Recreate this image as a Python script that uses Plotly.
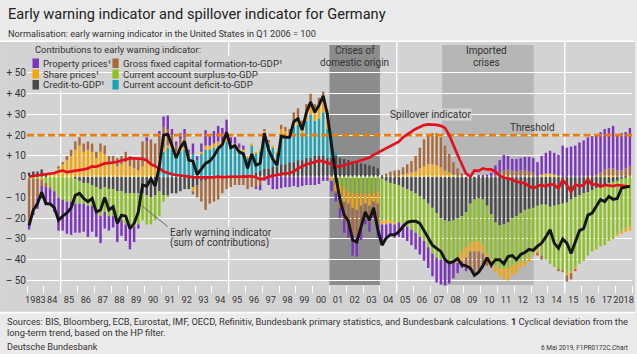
import plotly.graph_objects as go

# ---------------- data: quarterly, 1983 Q1 - 2018 Q4 ----------------
first_year = 1983
last_year = 2018

credit_to_gdp = [
    2, 2.5, 2.5, 3.5, 0.5, 0, 0, 0,
    0, 0, 0, -1, -2, -3, -3, -4,
    -5, -6, -5, -6, -6, -7, -7, -8,
    -8, -8, -8, -8, -9, -10, -9, -7,
    -9, -9, -8, -8, -7, -6, -6, -5,
    -4, -2, -2, -1, -1, 0, 0, 0,
    0, 0, 0, 0, 0, 1, 2, 3,
    4, 4, 5, 5, 6, 6, 7, 7,
    8, 8, 9, 9, 10, 10, 10, 9,
    9, 10, 9, 8.5, 8, 7.5, 7, 6.5,
    6, 5.5, 5, 4, -1, -2, -3, -3.5,
    -4, -5, -6, -7, -8, -9.5, -11, -13,
    -15, -17.5, -20, -21, -21.5, -21, -20, -19,
    -17, -13, -11, -10.5, -11, -14, -18, -22,
    -23.5, -23, -22, -20, -19, -17.5, -16, -15.5,
    -15, -14, -13.5, -13.5, -14.5, -14, -13.5, -13,
    -12.5, -11, -10, -9, -8, -7.5, -6.5, -5.5,
    -4.5, -4, -3, -2.5, -2, -1, -0.5, 0,
]

ca_deficit_to_gdp = [
    0, 0, 0, 0, 0, 0, 0, 0,
    0, 0, 0, 0, 0, 0, 0, 0,
    0, 0, 0, 0, 0, 0, 0, 0,
    0, 0, 0, 0, 0, 0, 0, 6,
    12, 14, 13, 11, 12, 13, 10, 11,
    8, 11, 13, 13, 14, 15, 15, 17,
    14, 14, 13, 12, 9, 14, 9, 9,
    16, 12, 9, 6, 14, 13, 12, 17,
    17, 13, 18, 21, 17, 18, 21, 14,
    13, 2, 0, 0, 0, 0, 0, 0,
    0, 0, 0, 0, 0, 0, 0, 0,
    0, 0, 0, 0, 0, 0, 0, 0,
    0, 0, 0, 0, 0, 0, 0, 0,
    0, 0, 0, 0, 0, 0, 0, 0,
    0, 0, 0, 0, 0, 0, 0, 0,
    0, 0, 0, 0, 0, 0, 0, 0,
    0, 0, 0, 0, 0, 0, 0, 0,
    0, 0, 0, 0, 0, 0, 0, 0,
]

ca_surplus_to_gdp = [
    -1, -1, -1, -1, -3, -5, -7, -10,
    -11, -12, -12, -12, -11, -10, -11, -10,
    -12, -13, -12, -13, -13, -14, -14, -15,
    -17, -16, -15, -13, -14, -13, -12, -12,
    -3, -1, 0, 0, 0, 0, 0, 0,
    0, 0, 0, 0, 0, 0, 0, 0,
    0, 0, 0, 0, 0, 0, 0, 0,
    0, 0, 0, 0, 0, 0, 0, 0,
    0, 0, 0, 0, 0, 0, 0, 0,
    0, -3, -4, -6, -7, -8, -8, -8,
    -8, -8, -8, -7, -20, -19, -18, -18.5,
    -18, -18, -18, -18.5, -19, -19.5, -20, -21,
    -22, -21.5, -20, -20, -19.5, -19, -18.5, -17,
    -17, -19, -20, -20.5, -22, -23, -22, -21,
    -20.5, -21.5, -22, -22.5, -23, -23.5, -24.5, -23.5,
    -22, -21, -24.5, -26.5, -27.5, -29.5, -31, -32,
    -34, -34.5, -33.5, -33, -32.5, -30.5, -29.5, -29.5,
    -29, -29, -28, -27.5, -25.5, -25, -24.5, -24,
]

share_prices = [
    0, 0, 0, -0.5, 0, 1, 2, 4,
    6, 8, 10, 13, 15, 12, 13, 12,
    9, 12, 11, 7, 6, 5, 6, 7,
    5, 4, 3, 5, 7, 6, 5, 3,
    2, 1, 1, 1, 2, 1, 0.5, -2,
    0, 1, 2, 2, 2, 2, 2, 3,
    2, 2, 1, 1, 1, 1, 0.5, 1,
    2, 1, 1, 0.5, 3, 3, 2, 3,
    4, 3, 4, 6, 4, 5, 5, 5,
    -2, -4, -5, -6, -6, -7, -8, -6,
    -5, -6, -4, -6, -2, -2, -1.5, -1,
    0.5, 1, 1.5, 2, 2.5, 4, 5, 6,
    6, 5.5, 4.5, 3, 2, 1, -3, -5,
    -5, -4, -5, -5, -4, -3, -3, -3,
    -4, -5, -6, -5, -4.5, -3, -2.5, -2,
    -1, -1.5, 1, 1.5, 1.5, 1, 0.5, 0,
    -1, -1, -1, 0, 0, 0, 0, 0,
    0, 0.5, 0.5, 0.5, -1, -1.5, -1.5, -2,
]

gfcf_to_gdp = [
    -22, -14, -9, -3, -2, -1, 0, 1,
    1, 2, 3, 4, 4, 4, 4, 4,
    3, 4, 4, 3, 4, 4, 4, 5,
    5, 5, 5, 12, 10, 12, 11, 10,
    10, 8, 6, 3, 4, 5, 1.5, -1.5,
    -6, -10, -14, -12, -11, -11, -8, -6,
    -5, -4, -4, -4, -6, -5, -5, -4,
    1, 0.5, 0, 0, 2, 2, 2, 4,
    4, 3, 4, 4, 4, 5, 5, 4,
    0, -1, -6, -9, -11, -13, -13, -11,
    -7, -8, -5, -10, 0.5, 1.5, 2.5, 3,
    2.7, 3.5, 4.5, 5.5, 7.5, 10, 13, 14,
    15, 15.5, 14.5, 12, 9, 6, 4, 1.6,
    -5, -8, -10, -9, -6, -3, -1, 1,
    2, 3, 3.5, 3, 2.5, 3, 3, 2.5,
    2, -1.5, -2, 0, 0, 0, -1, -1,
    -3, -3, -1, 0, 0, 0.5, 0.5, 1,
    2, 3, 3.5, 3.5, 3, 3, 4, 5,
]

property_prices = [
    -2.5, -3.5, -5.5, -6, -8.5, -8, -10, -16,
    -15, -15.5, -16, -14, -14, -13.5, -15, -12.5,
    -12, -13, -8, -7, -5.5, -10.5, -7.5, -8,
    -10, -7.5, -2, 0, 2, 0, 0, 3,
    5, 6.5, 3, 2, 3, 4, 1, 5,
    2, 4, 7.4, 5.5, 6, 7.5, 6.5, 7.5,
    3, 3, 2, 2, 0, 0, -0.5, -2.5,
    -2, -4, -6, -6, -5.5, -5, -5, -4.5,
    -5, -4.5, -4, -4, -4, -3.5, -2, -2,
    -5, -4, -5, -6, -5.5, -10, -9.5, -5.5,
    -3, -4.5, -3, -6.5, -10, -7, -6, -6.5,
    -7, -6.5, -7, -7.5, -8, -8.5, -9.5, -10,
    -11, -12, -12, -11.5, -10.5, -9, -5, -3,
    -1.5, -1, 0, 0.5, 0.5, 1, 2, 4.5,
    6, 7.5, 6.5, 5.5, 6, 6, 6.5, 7,
    7, 7, 9, 10, 11, 10.5, 10, 15,
    14, 14.5, 15, 16.5, 17.5, 18.5, 19, 19,
    19.5, 19.5, 19.5, 20.5, 17, 18, 17.5, 18.5,
]

early_warning_indicator = [
    -23.5, -16, -13, -7.5, -13, -13, -15, -21,
    -19, -17.5, -15, -9, -8, -10.5, -12, -10.5,
    -17, -16, -10, -16, -14.5, -22.5, -18.5, -19,
    -25, -22.5, -17, -4, -4.5, -1, -4.5, 5,
    20, 20.5, 15, 9, 14, 17, 8, 7.5,
    1, 4, 6.4, 7.5, 10, 13.5, 15.5, 21.5,
    14, 15, 12, 11, 4, 11, 5.5, 6.5,
    21, 13, 8.5, 5.5, 19.5, 19, 19, 26.5,
    28, 22.5, 31, 36, 31, 34.5, 39, 30,
    14, 0, -11, -18.5, -21.5, -30.5, -31.5, -24,
    -17, -21, -15, -25.5, -33, -29.5, -28, -28,
    -26.5, -24, -22, -21.5, -21.5, -22.5, -26, -30,
    -33, -34.5, -36, -40, -41.5, -41, -39.5, -42.5,
    -43, -44, -47.5, -46, -43, -39, -42.5, -40,
    -40, -42, -38.5, -38, -40, -37.5, -36.5, -35,
    -35.5, -33.5, -32, -29, -25.5, -32, -34.5, -30,
    -32, -37, -31, -26, -25, -18.5, -17.5, -14.5,
    -11, -12, -9.5, -11, -10.5, -5.5, -5, -4.5,
]

spillover_indicator = [
    0, 0.3, 0.5, 0.8, 1.2, 1.6, 1.8, 2.5,
    3, 2.2, 2.5, 2.8, 3, 3.5, 4, 5,
    4.8, 5.5, 6.4, 6.5, 6.7, 7.2, 7.8, 8.4,
    8.8, 8.8, 8.8, 8.6, 7.8, 6, 5, 4,
    2.5, 1.8, 1.2, 0.8, 0.5, 0.3, 0, -0.2,
    -0.3, -0.4, -0.5, -0.3, -0.2, 0, -0.2, 0,
    0, 0.1, -0.1, 0.2, 0, 0.3, -0.3, -1.3,
    -0.8, 0, 0.5, 0.8, 1.3, 1.6, 1.8, 2.5,
    4, 5, 6, 6.5, 7.2, 7.7, 7.4, 6.8,
    6, 5, 4.8, 5.6, 6, 6.7, 7.2, 7.8,
    8.4, 9.2, 10.5, 11.5, 12.5, 13.7, 14.5, 15.5,
    16.9, 19, 20.5, 21.7, 23, 24, 24.9, 25.2,
    25.2, 25, 24.5, 23.5, 20, 15, 10.5, 6,
    1.5, 0, 3, 2.8, 4, 3.5, 3.5, 2.4,
    0.5, -0.5, -0.8, -1.5, -2.4, -2.8, -3.2, -4.5,
    -5.6, -4.5, -4, -4.8, -3.5, -4, -5.6, -1.6,
    -4, -7.2, -3.8, -4.5, -4, -1.3, -4, -3.5,
    -4.8, -4, -4.2, -4.5, -4, -4.2, -4.5, -4.8,
]

threshold = 20
domestic_crises = (2001.0, 2004.0)
imported_crises = (2007.7, 2013.15)

years = list(range(first_year, last_year + 1))
year_labels = ["1983"] + ["%02d" % (y % 100) for y in years[1:-1]] + ["2018"]
y_ticks = [-50, -40, -30, -20, -10, 0, 10, 20, 30, 40, 50]
y_labels = ["\u2013 50", "\u2013 40", "\u2013 30", "\u2013 20", "\u2013 10", "0",
            "+ 10", "+ 20", "+ 30", "+ 40", "+ 50"]

n = len(early_warning_indicator)
for arr in (credit_to_gdp, ca_deficit_to_gdp, ca_surplus_to_gdp, share_prices,
            gfcf_to_gdp, property_prices, spillover_indicator):
    assert len(arr) == n
quarters = [first_year + 0.125 + 0.25 * i for i in range(n)]

# ---------------- styling ----------------
FONT = "Roboto, Liberation Sans, sans-serif"
C_PROP = "#7d35c0"
C_SHARE = "#f7a600"
C_CREDIT = "#4a4a4a"
C_GFCF = "#a86a3c"
C_SURPLUS = "#8cc21e"
C_DEFICIT = "#1aa3b5"
C_EWI = "#151515"
C_SPILL = "#e3101e"
C_THR = "#f07d00"
PANEL = "#d3d3d3"
HEADER = "#eaeaea"
TXT = "#333333"

PL, PT, PW, PH = 27, 42, 607, 251


def ax(px):
    return (px - PL) / PW


def ay(py):
    return 1 - (py - PT) / PH


fig = go.Figure()
bar_w = 0.145
series = [
    ("Credit-to-GDP", credit_to_gdp, C_CREDIT),
    ("Current account deficit-to-GDP", ca_deficit_to_gdp, C_DEFICIT),
    ("Current account surplus-to-GDP", ca_surplus_to_gdp, C_SURPLUS),
    ("Share prices", share_prices, C_SHARE),
    ("Gross fixed capital formation-to-GDP", gfcf_to_gdp, C_GFCF),
    ("Property prices", property_prices, C_PROP),
]
for name, vals, col in series:
    fig.add_trace(go.Bar(x=quarters, y=vals, name=name, width=bar_w,
                         marker=dict(color=col, line=dict(width=0))))

fig.add_trace(go.Scatter(x=[first_year, last_year + 1], y=[threshold, threshold],
                         mode="lines", name="Threshold",
                         line=dict(color=C_THR, width=2.8, dash="7px,3.5px")))
fig.add_trace(go.Scatter(x=quarters, y=spillover_indicator, mode="lines",
                         name="Spillover indicator",
                         line=dict(color=C_SPILL, width=2.7)))
fig.add_trace(go.Scatter(x=quarters, y=early_warning_indicator, mode="lines",
                         name="Early warning indicator",
                         line=dict(color=C_EWI, width=2.9)))

shapes = []
# panel background and white separators
shapes.append(dict(type="rect", xref="paper", yref="paper", x0=ax(0), x1=ax(637),
                   y0=ay(312), y1=ay(42), fillcolor=PANEL, line=dict(width=0), layer="below"))
for py in (41.2, 312.6):
    shapes.append(dict(type="line", xref="paper", yref="paper", x0=ax(0), x1=ax(637),
                       y0=ay(py), y1=ay(py), line=dict(color="white", width=1.6), layer="below"))
# crisis periods
shapes.append(dict(type="rect", xref="x", yref="y", x0=domestic_crises[0], x1=domestic_crises[1],
                   y0=-52.2, y1=63.5, fillcolor="#8c8c8c", line=dict(width=0), layer="below"))
shapes.append(dict(type="rect", xref="x", yref="y", x0=imported_crises[0], x1=imported_crises[1],
                   y0=-52.2, y1=63.5, fillcolor="#b6b6b6", line=dict(width=0), layer="below"))
# decade grid lines
for yv in (1985, 1995, 2005, 2015):
    shapes.append(dict(type="line", xref="x", yref="paper", x0=yv, x1=yv, y0=0, y1=1,
                       line=dict(color="white", width=1.4), layer="below"))
# legend backdrop
shapes.append(dict(type="rect", xref="paper", yref="paper", x0=ax(29), x1=ax(262),
                   y0=ay(91), y1=ay(56), fillcolor=PANEL, line=dict(width=0), layer="between"))
shapes.append(dict(type="rect", xref="paper", yref="paper", x0=ax(29), x1=ax(212),
                   y0=ay(56), y1=ay(42.5), fillcolor=PANEL, line=dict(width=0), layer="between"))
# legend swatches
rows = [(58.5, 68), (69.5, 78.5), (80, 89.5)]
col1 = [C_PROP, C_SHARE, C_CREDIT]
col2 = [C_GFCF, C_SURPLUS, C_DEFICIT]
for (t, b), c1, c2 in zip(rows, col1, col2):
    shapes.append(dict(type="rect", xref="paper", yref="paper", x0=ax(32.5), x1=ax(39),
                       y0=ay(b), y1=ay(t), fillcolor=c1, line=dict(width=0)))
    shapes.append(dict(type="rect", xref="paper", yref="paper", x0=ax(112.7), x1=ax(119),
                       y0=ay(b), y1=ay(t), fillcolor=c2, line=dict(width=0)))
# leader line to EWI label
shapes.append(dict(type="line", xref="paper", yref="paper", x0=ax(142), y0=ay(205.5),
                   x1=ax(168), y1=ay(226.5), line=dict(color="#5a5a5a", width=0.9)))

anns = []


def txt(s, px, py, size=10, anchor="left", color=TXT, bg=None):
    d = dict(text=s, x=ax(px), y=ay(py), xref="paper", yref="paper", xanchor=anchor,
             yanchor="middle", showarrow=False,
             font=dict(size=size, color=color, family=FONT))
    if bg:
        d["bgcolor"] = bg
        d["borderpad"] = 0
    anns.append(d)


txt("Early warning indicator and spillover indicator for Germany", 6, 14, size=14.6, color="#222")
txt("Normalisation: early warning indicator in the United States in Q1 2006 = 100", 6, 33, size=9.2)
txt("Contributions to early warning indicator:", 33, 50, size=9.4)
l1 = ["Property prices\u00b9", "Share prices\u00b9", "Credit-to-GDP\u00b9"]
l2 = ["Gross fixed capital formation-to-GDP\u00b9", "Current account surplus-to-GDP",
      "Current account deficit-to-GDP"]
for (t, b), a, c in zip(rows, l1, l2):
    txt(a, 41, (t + b) / 2, size=9.6)
    txt(c, 121.5, (t + b) / 2, size=9.6)
txt("Crises of", 356, 51, size=10, anchor="center")
txt("domestic origin", 356, 62.5, size=10, anchor="center")
txt("Imported", 488, 51, size=10, anchor="center")
txt("crises", 488, 62.5, size=10, anchor="center")
txt("Spillover indicator", 432, 115, size=10.2, anchor="center", bg=PANEL)
txt("Threshold", 534, 128, size=10, anchor="center")
txt("Early warning indicator", 169, 232, size=10, bg=PANEL)
txt("(sum of contributions)", 169, 242.5, size=10, bg=PANEL)
txt("Sources: BIS, Bloomberg, ECB, Eurostat, IMF, OECD, Refinitiv, Bundesbank primary statistics, "
    "and Bundesbank calculations. <b>1</b> Cyclical deviation from the", 5, 321.5, size=9.3)
txt("long-term trend, based on the HP filter.", 5, 332.5, size=9.3)
txt("Deutsche Bundesbank", 5, 347, size=9.1)
txt("6 Mai 2019, F1PR0172C.Chart", 632, 348, size=6.5, anchor="right")

fig.update_layout(
    width=637, height=354,
    margin=dict(l=PL, r=637 - PL - PW, t=PT, b=354 - PT - PH, pad=0),
    paper_bgcolor=HEADER, plot_bgcolor="rgba(0,0,0,0)",
    barmode="relative", showlegend=False,
    font=dict(family=FONT, size=10, color=TXT),
    shapes=shapes, annotations=anns,
    xaxis=dict(range=[first_year, last_year + 1], tickmode="array",
               tickvals=[y + 0.5 for y in years], ticktext=year_labels,
               ticks="", tickangle=0, showgrid=False, zeroline=False, showline=False,
               ticklabeloverflow="allow",
               tickfont=dict(size=9.2, color=TXT, family=FONT),
               minor=dict(tickmode="array", tickvals=list(range(first_year, last_year + 2)),
                          ticks="inside", ticklen=7, tickcolor="white", tickwidth=1.3,
                          showgrid=False)),
    yaxis=dict(range=[-56.05, 64.92], tickmode="array", tickvals=y_ticks, ticktext=y_labels,
               ticks="", showgrid=True, gridcolor="white", gridwidth=1.3,
               zeroline=True, zerolinecolor="white", zerolinewidth=2.5, showline=False,
               tickfont=dict(size=10, color=TXT, family=FONT)),
)

fig.write_html("out.html")
